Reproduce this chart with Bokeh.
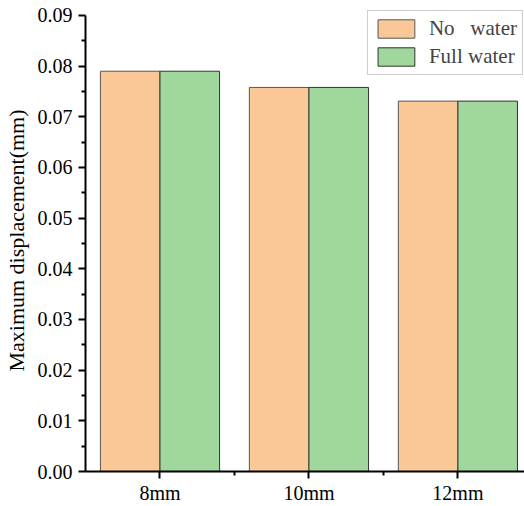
from bokeh.plotting import figure
from bokeh.models import FixedTicker, Legend, LegendItem, ColumnDataSource, Range1d
from bokeh.transform import dodge
from bokeh.embed import file_html
from bokeh.resources import INLINE

categories = ["8mm", "10mm", "12mm"]
positions = [1, 2, 3]
no_water = [0.0790, 0.0758, 0.0731]
full_water = [0.0790, 0.0758, 0.0731]
y_ticks = [0.00, 0.01, 0.02, 0.03, 0.04, 0.05, 0.06, 0.07, 0.08, 0.09]

FONT = "Liberation Serif"

src = ColumnDataSource(dict(x=positions, no=no_water, full=full_water))

# frame: top at 9 px so the legend fits; 0.09 lands at ~15 px
y_top = 0.09 * 463 / 457
p = figure(width=524, height=506, output_backend="svg", toolbar_location=None,
           x_range=Range1d(0.5, 3.447), y_range=Range1d(0, y_top),
           min_border_left=82, min_border_right=0, min_border_top=9, min_border_bottom=34)
p.outline_line_color = None
p.grid.visible = False
p.background_fill_color = "white"

r1 = p.vbar(x=dodge("x", -0.2), top="no", width=0.4, source=src,
            fill_color="#FAC896", line_color="#555555", line_width=1)
r2 = p.vbar(x=dodge("x", 0.2), top="full", width=0.4, source=src,
            fill_color="#9FD79C", line_color="#333333", line_width=1)

# axes
for ax in (p.xaxis[0], p.yaxis[0]):
    ax.axis_line_color = "black"
    ax.axis_line_width = 2
    ax.major_tick_line_color = "black"
    ax.major_tick_line_width = 2
    ax.minor_tick_line_color = "black"
    ax.minor_tick_line_width = 2
    ax.major_tick_in = 0
    ax.major_tick_out = 7
    ax.minor_tick_in = 0
    ax.minor_tick_out = 4
    ax.major_label_text_font = FONT
    ax.major_label_text_font_size = "20px"
    ax.major_label_text_color = "black"

p.xaxis.ticker = FixedTicker(ticks=positions, minor_ticks=[1.5, 2.5])
p.xaxis.major_label_overrides = {pos: c for pos, c in zip(positions, categories)}
p.xaxis.major_label_standoff = 3

p.yaxis.bounds = (0, 0.09)
p.yaxis.ticker = FixedTicker(ticks=y_ticks,
                             minor_ticks=[t + 0.005 for t in y_ticks[:-1]])
p.yaxis.major_label_overrides = {t: f"{t:.2f}" for t in y_ticks}
p.yaxis.major_label_standoff = 6
p.yaxis.axis_label = "Maximum displacement(mm)"
p.yaxis.axis_label_text_font = FONT
p.yaxis.axis_label_text_font_size = "22px"
p.yaxis.axis_label_text_font_style = "normal"
p.yaxis.axis_label_text_color = "black"
p.yaxis.axis_label_standoff = 6

legend = Legend(items=[LegendItem(label="No   water", renderers=[r1]),
                       LegendItem(label="Full water", renderers=[r2])],
                location="top_right")
legend.label_text_font = FONT
legend.label_text_font_size = "21px"
legend.glyph_width = 46
legend.glyph_height = 23
legend.label_height = 23
legend.spacing = 3
legend.padding = 5
legend.margin = 1
legend.label_standoff = 10
legend.border_line_color = "#999999"
legend.border_line_width = 1
legend.background_fill_alpha = 1
p.add_layout(legend)

open("out.html", "w").write(file_html(p, INLINE))
